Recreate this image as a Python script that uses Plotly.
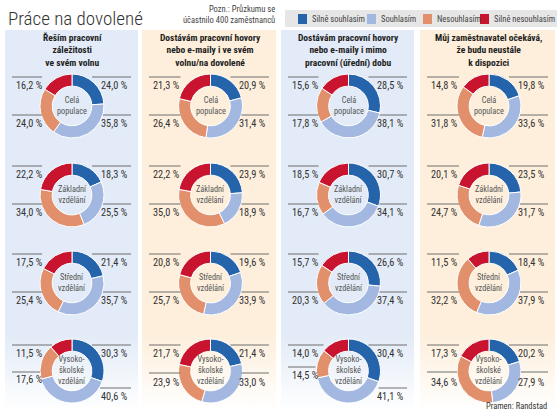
import plotly.graph_objects as go

# ---------------- data ----------------
categories = ["Silně souhlasím", "Souhlasím", "Nesouhlasím", "Silně nesouhlasím"]
questions = [
    "Řeším pracovní<br>záležitosti<br>ve svém volnu",
    "Dostávám pracovní hovory<br>nebo e-maily i ve svém<br>volnu/na dovolené",
    "Dostávám pracovní hovory<br>nebo e-maily i mimo<br>pracovní (úřední) dobu",
    "Můj zaměstnavatel očekává,<br>že budu neustále<br>k dispozici",
]
groups = ["Celá<br>populace", "Základní<br>vzdělání", "Střední<br>vzdělání", "Vysoko-<br>školské<br>vzdělání"]

# values per question: rows = groups, order = categories
q1_values = [[24.0, 35.8, 24.0, 16.2], [18.3, 25.5, 34.0, 22.2], [21.4, 35.7, 25.4, 17.5], [30.3, 40.6, 17.6, 11.5]]
q2_values = [[20.9, 31.4, 26.4, 21.3], [23.9, 18.9, 35.0, 22.2], [19.6, 33.9, 25.7, 20.8], [21.4, 33.0, 23.9, 21.7]]
q3_values = [[28.5, 38.1, 17.8, 15.6], [30.7, 34.1, 16.7, 18.5], [26.6, 37.4, 20.3, 15.7], [30.4, 41.1, 14.5, 14.0]]
q4_values = [[19.8, 33.6, 31.8, 14.8], [23.5, 31.7, 24.7, 20.1], [18.4, 37.9, 32.2, 11.5], [20.2, 27.9, 34.6, 17.3]]
all_values = [q1_values, q2_values, q3_values, q4_values]

title_text = "Práce na dovolené"
note_text = "Pozn.: Průzkumu se<br>účastnilo 400 zaměstnanců"
source_text = "Pramen: Randstad"

# ---------------- styling / layout ----------------
W, H = 560, 415
colors = ["#2563ab", "#a2b8e0", "#e2906c", "#c8142f"]
panel_colors = ["#e2ebf7", "#fdefdc", "#e2ebf7", "#fdefdc"]
panels = [(5, 138), (142, 276), (281, 414), (420, 555)]
donut_cx = [72, 210.5, 348.5, 489]
row_cy = [106, 195, 283, 371]
R = 32
FONT = "Roboto Condensed, Liberation Sans Narrow, DejaVu Sans Condensed, Roboto, sans-serif"
LINE_COLOR = "#6e6e6e"
TEXT_COLOR = "#333333"

# label geometry: (line dy, label dy, inner x offset) for SS(TR), S(BR), N(BL), SN(TL)
default_geom = {"TR": (-29, -21, 20), "BR": (9, 17, 31), "BL": (9, 17, -30), "TL": (-29, -21, -30)}
row4_geom = [
    {"TR": (-26, -18, 20), "BR": (17, 25, 28), "BL": (1, 8, -32), "TL": (-26, -18, -20)},
    {"TR": (-26, -18, 20), "BR": (2, 11, 31), "BL": (2, 11, -30), "TL": (-26, -18, -30)},
    {"TR": (-26, -18, 20), "BR": (17, 25, 30), "BL": (-4, 4, -33), "TL": (-26, -18, -25)},
    {"TR": (-26, -18, 20), "BR": (1, 11, 32), "BL": (1, 11, -32), "TL": (-26, -18, -30)},
]
slot_of_category = ["TR", "BR", "BL", "TL"]

fig = go.Figure()
shapes = []
annotations = []

for (x0, x1), pc in zip(panels, panel_colors):
    fig.add_trace(go.Scatter(
        x=[x0, x1, x1, x0, x0], y=[30, 30, 411, 411, 30],
        mode="lines", line=dict(width=0), fill="toself",
        fillgradient=dict(type="vertical", colorscale=[[0, "#ffffff"], [0.2, pc], [1, pc]]),
        hoverinfo="skip", showlegend=False,
    ))

def fmt(v):
    return f"{v:.1f}".replace(".", ",") + " %"

for ci, qvals in enumerate(all_values):
    px0, px1 = panels[ci]
    cx = donut_cx[ci]
    annotations.append(dict(
        x=(px0 + px1) / 2 + 1, y=50, xref="x", yref="y", text="<b>" + questions[ci] + "</b>",
        showarrow=False, xanchor="center", yanchor="middle",
        font=dict(family=FONT, size=9.5, color="#1e1e1e"), align="center",
    ))
    for ri, vals in enumerate(qvals):
        cy = row_cy[ri]
        fig.add_trace(go.Pie(
            values=vals, labels=categories, sort=False, direction="clockwise", rotation=0,
            hole=0.62, marker=dict(colors=colors, line=dict(color="white", width=1)),
            textinfo="none", hoverinfo="label+value",
            domain=dict(x=[(cx - R) / W, (cx + R) / W], y=[1 - (cy + R) / H, 1 - (cy - R) / H]),
            showlegend=False,
        ))
        annotations.append(dict(
            x=cx, y=cy - 1, xref="x", yref="y", text=groups[ri], showarrow=False,
            xanchor="center", yanchor="middle", align="center",
            font=dict(family=FONT, size=8.3, color="#555555"),
        ))
        geom = row4_geom[ci] if ri == 3 else default_geom
        for k, v in enumerate(vals):
            slot = slot_of_category[k]
            ldy, tdy, xoff = geom[slot]
            if slot in ("TL", "BL"):
                lx0, lx1 = px0 + 7, cx + xoff
                tx, anchor = px0 + 9, "left"
            else:
                lx0, lx1 = cx + xoff, px1 - 7
                tx, anchor = px1 - 8, "right"
            shapes.append(dict(type="line", xref="x", yref="y", x0=lx0, x1=lx1,
                               y0=cy + ldy, y1=cy + ldy, line=dict(color=LINE_COLOR, width=1), layer="above"))
            annotations.append(dict(
                x=tx, y=cy + tdy, xref="x", yref="y", text=fmt(v), showarrow=False,
                xanchor=anchor, yanchor="middle", font=dict(family=FONT, size=10.3, color=TEXT_COLOR),
            ))

annotations.append(dict(x=6, y=18, xref="x", yref="y", text=title_text, showarrow=False,
                        xanchor="left", yanchor="middle",
                        font=dict(family=FONT, size=19, color="#333333", weight=300)))
annotations.append(dict(x=277, y=14, xref="x", yref="y", text=note_text, showarrow=False,
                        xanchor="right", yanchor="middle", align="right",
                        font=dict(family=FONT, size=8.5, color="#444444")))
annotations.append(dict(x=549, y=406, xref="x", yref="y", text=source_text, showarrow=False,
                        xanchor="right", yanchor="middle",
                        font=dict(family=FONT, size=8.5, color="#333333")))

shapes.append(dict(type="rect", xref="x", yref="y", x0=285, x1=557, y0=10, y1=27,
                   fillcolor="#e6e6e6", line=dict(width=0), layer="below"))
legend_x = [298, 367, 423, 480]
for k, cat in enumerate(categories):
    lx = legend_x[k]
    shapes.append(dict(type="rect", xref="x", yref="y", x0=lx, x1=lx + 9, y0=14, y1=24,
                       fillcolor=colors[k], line=dict(width=0), layer="above"))
    annotations.append(dict(x=lx + 12, y=19, xref="x", yref="y", text=cat, showarrow=False,
                            xanchor="left", yanchor="middle",
                            font=dict(family=FONT, size=8.5, color="#444444")))

fig.update_layout(
    width=W, height=H, margin=dict(l=0, r=0, t=0, b=0),
    paper_bgcolor="white", plot_bgcolor="white",
    xaxis=dict(range=[0, W], visible=False, fixedrange=True, domain=[0, 1]),
    yaxis=dict(range=[H, 0], visible=False, fixedrange=True, domain=[0, 1]),
    shapes=shapes, annotations=annotations, showlegend=False,
)

fig.write_html("out.html")
